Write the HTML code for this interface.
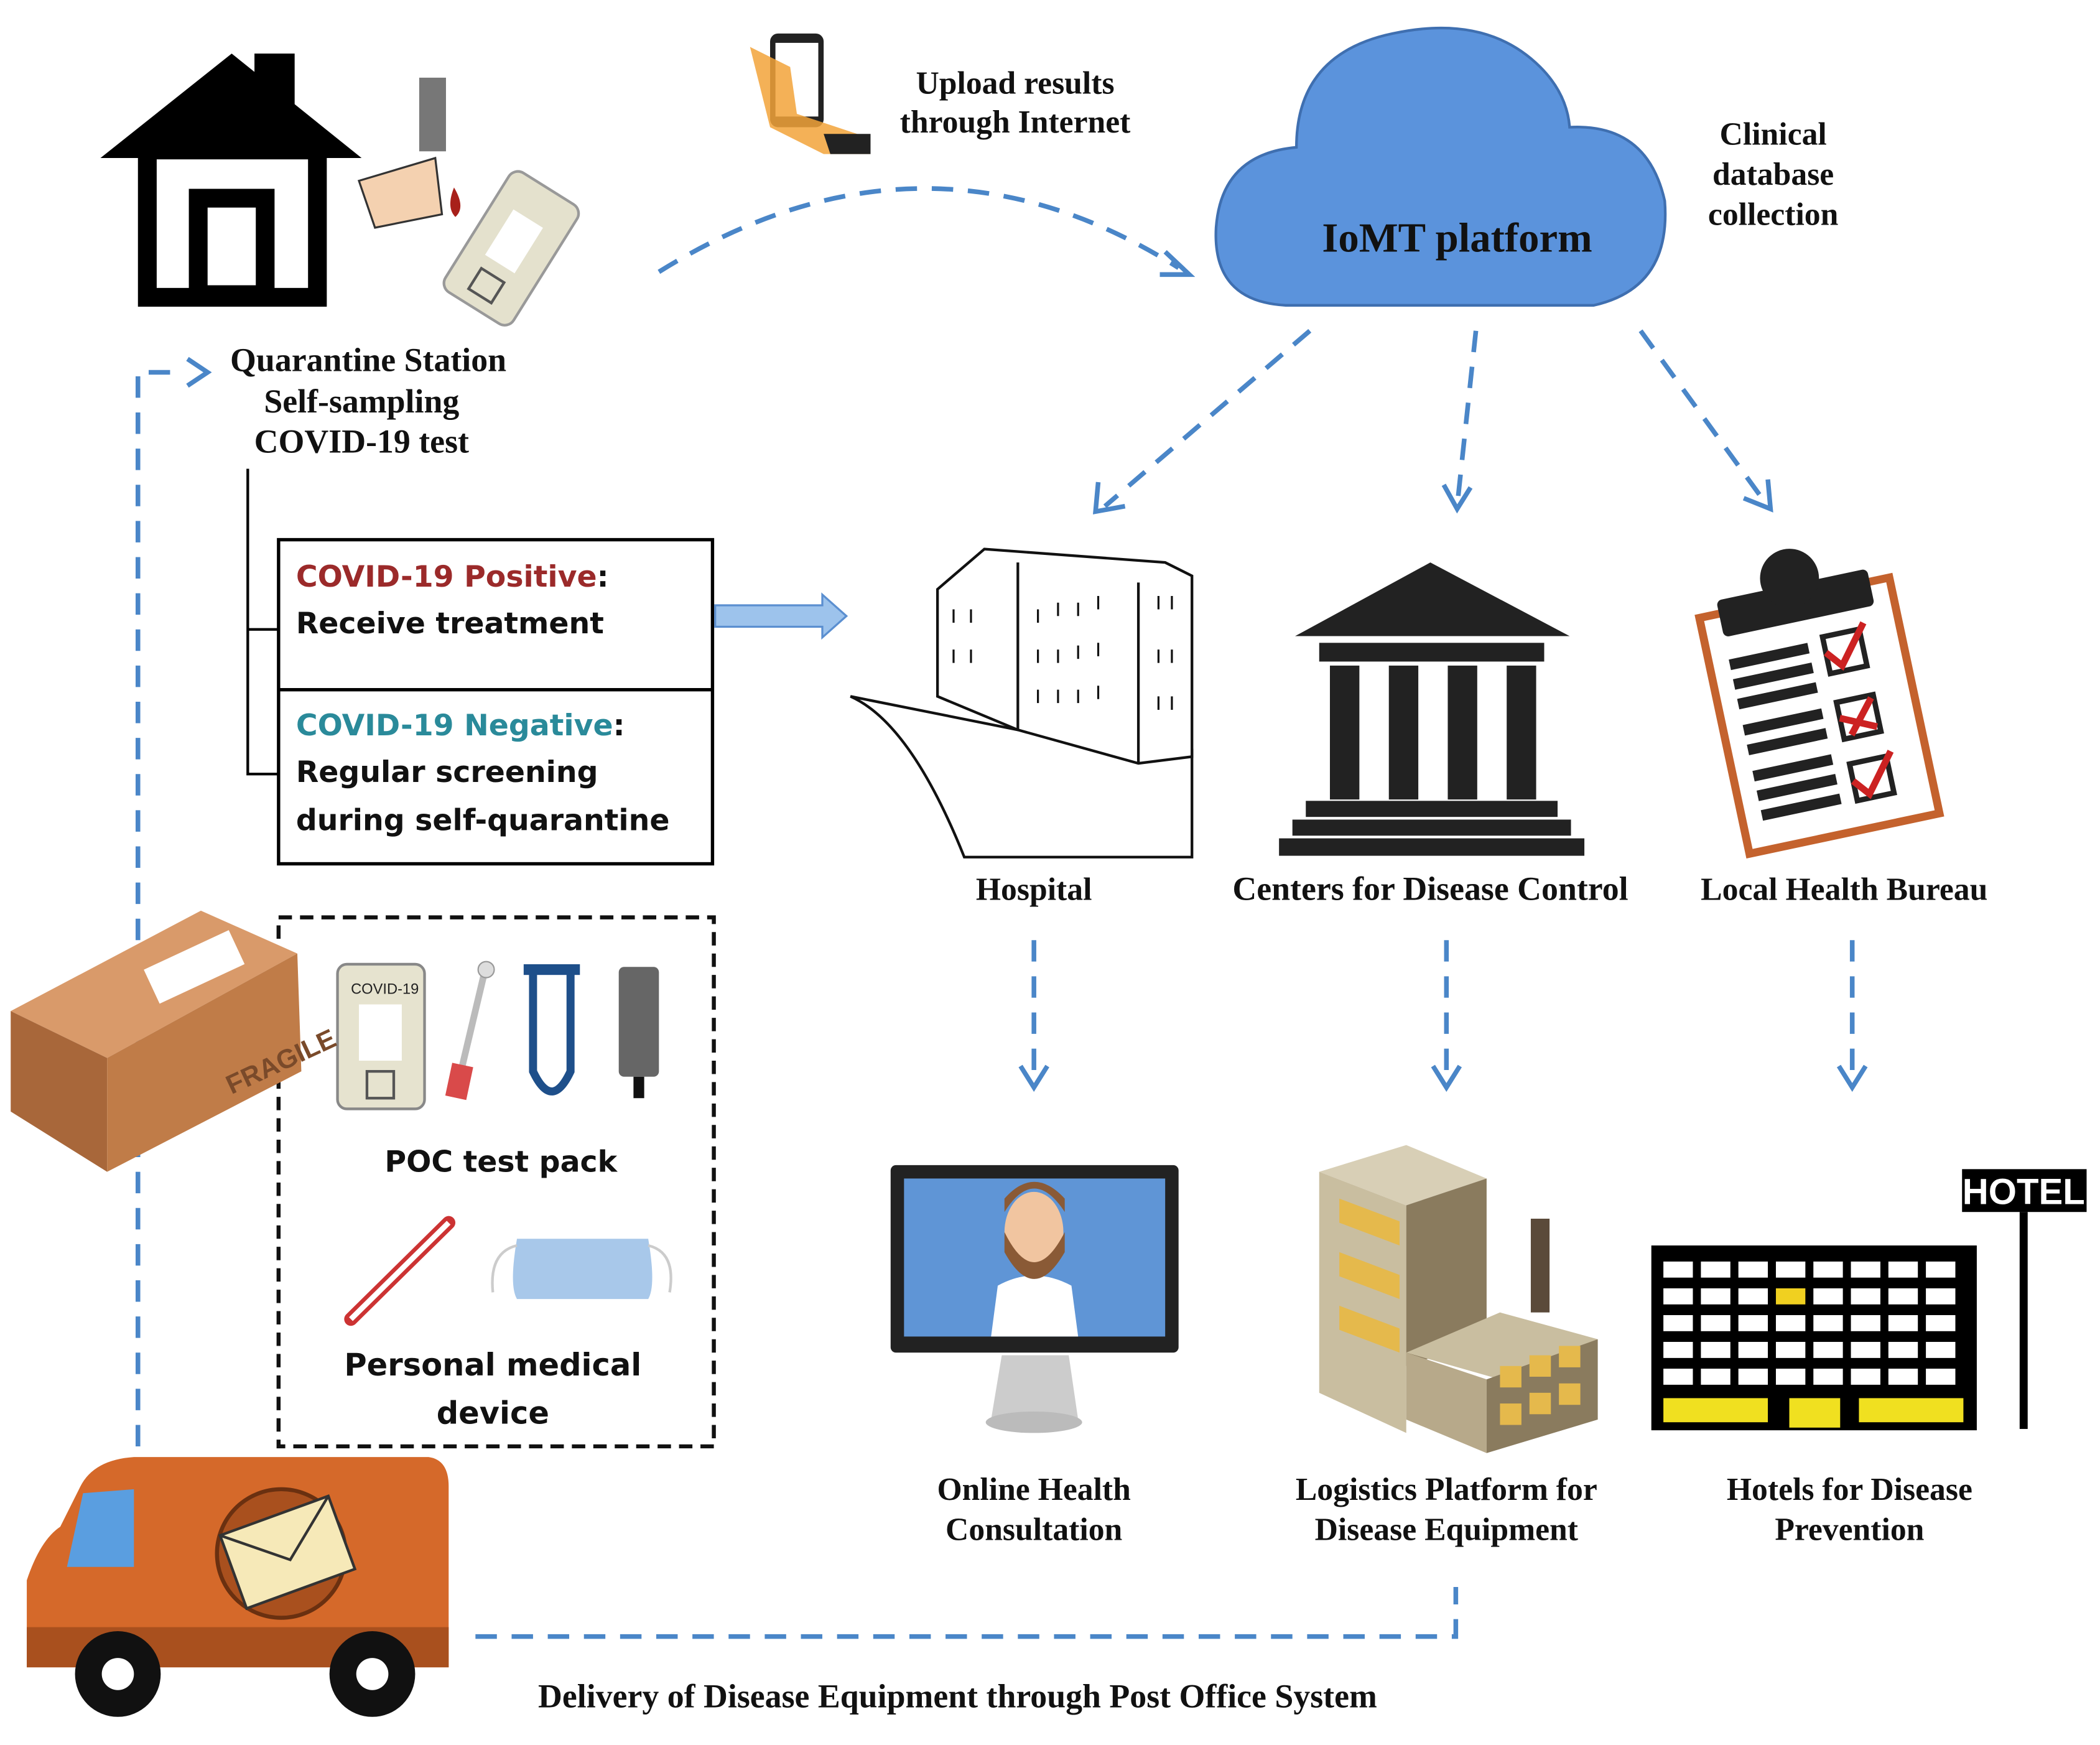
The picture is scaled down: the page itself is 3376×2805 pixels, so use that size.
<!DOCTYPE html>
<html><head><meta charset="utf-8"><style>
html,body{margin:0;padding:0;background:#fff;}
svg{display:block;}
.s{font-family:"Liberation Serif",serif;font-weight:bold;fill:#111;}
.a{font-family:"DejaVu Sans","Liberation Sans",sans-serif;font-weight:bold;fill:#111;}
.d{fill:none;stroke:#4a86c8;stroke-width:3.5;stroke-dasharray:16 11;}
.h{fill:none;stroke:#4a86c8;stroke-width:3.5;}
</style></head><body>
<svg width="3376" height="2805" viewBox="0 0 1568 1303" preserveAspectRatio="none" xmlns="http://www.w3.org/2000/svg">
<rect width="1568" height="1303" fill="#fff"/>
<!-- house -->
<polygon points="75,118 173,40 270,118" fill="#000"/>
<rect x="190" y="40" width="30" height="45" fill="#000"/>
<rect x="110" y="112" width="127" height="110" fill="none" stroke="#000" stroke-width="14"/>
<rect x="148" y="148" width="50" height="72" fill="none" stroke="#000" stroke-width="14"/>
<!-- finger lancet -->
<rect x="313" y="58" width="20" height="55" fill="#777"/>
<path d="M268,135 L325,118 L330,160 L280,170 Z" fill="#f4d1b0" stroke="#333" stroke-width="1.5"/>
<path d="M339,140 Q333,155 340,162 Q348,155 339,140Z" fill="#a8201a"/>
<!-- test cassette -->
<g transform="rotate(32 382 185)"><rect x="352" y="133" width="60" height="105" rx="8" fill="#e4e1cd" stroke="#999" stroke-width="2"/><rect x="368" y="160" width="26" height="40" fill="#fff"/><rect x="371" y="210" width="20" height="18" fill="none" stroke="#555" stroke-width="2"/></g>
<!-- phone -->
<rect x="575" y="25" width="40" height="70" rx="6" fill="#222"/><rect x="579" y="32" width="32" height="55" fill="#fff"/>
<path d="M560,35 L590,50 L595,85 L640,100 L650,115 L615,115 L575,95 Z" fill="#f2a33a" opacity="0.85"/>
<path d="M615,100 L650,100 L650,115 L620,115Z" fill="#222"/>
<text class="s" x="758" y="70" font-size="24" text-anchor="middle">Upload results</text>
<text class="s" x="758" y="99" font-size="24" text-anchor="middle">through Internet</text>
<!-- cloud -->
<g fill="#5b93dc" stroke="#3f6fb0" stroke-width="2">
<path d="M960,228 Q905,225 908,170 Q912,115 968,110 Q968,40 1040,25 Q1110,10 1150,50 Q1170,70 1172,95 Q1230,92 1243,150 Q1248,215 1190,228 Z"/>
</g>
<text class="s" x="1088" y="188" font-size="31" text-anchor="middle">IoMT platform</text>
<text class="s" x="1324" y="108" font-size="24" text-anchor="middle">Clinical</text>
<text class="s" x="1324" y="138" font-size="24" text-anchor="middle">database</text>
<text class="s" x="1324" y="168" font-size="24" text-anchor="middle">collection</text>
<!-- upload arrow -->
<path class="d" d="M492,203 Q690,80 880,200"/>
<path class="h" d="M870,188 L888,205 L866,205"/>
<!-- quarantine -->
<text class="s" x="275" y="277" font-size="25" text-anchor="middle">Quarantine Station</text>
<text class="s" x="270" y="308" font-size="25" text-anchor="middle">Self-sampling</text>
<text class="s" x="270" y="338" font-size="25" text-anchor="middle">COVID-19 test</text>
<path class="d" d="M103,1080 L103,278 L130,278"/>
<path class="h" d="M140,268 L155,278 L140,288"/>
<path d="M185,350 L185,578 L208,578 M185,470 L208,470" fill="none" stroke="#000" stroke-width="2"/>
<rect x="208" y="403" width="324" height="242" fill="#fff" stroke="#000" stroke-width="2.5"/>
<line x1="208" y1="515" x2="532" y2="515" stroke="#000" stroke-width="2.5"/>
<text class="a" x="221" y="438" font-size="22"><tspan fill="#9b2a2a">COVID-19 Positive</tspan>:</text>
<text class="a" x="221" y="473" font-size="22">Receive treatment</text>
<text class="a" x="221" y="549" font-size="22"><tspan fill="#2a8a9a">COVID-19 Negative</tspan>:</text>
<text class="a" x="221" y="584" font-size="22">Regular screening</text>
<text class="a" x="221" y="620" font-size="22">during self-quarantine</text>
<path d="M534,452 L614,452 L614,444 L632,460 L614,476 L614,468 L534,468 Z" fill="#9dc3ec" stroke="#5b8fd0" stroke-width="1.5"/>
<!-- cloud to buildings -->
<path class="d" d="M978,247 L825,378"/><path class="h" d="M820,360 L818,382 L840,378"/>
<path class="d" d="M1102,247 L1088,378"/><path class="h" d="M1078,362 L1088,380 L1098,364"/>
<path class="d" d="M1225,247 L1320,378"/><path class="h" d="M1302,372 L1322,380 L1320,358"/>
<!-- hospital -->
<g fill="#fff" stroke="#111" stroke-width="2">
<path d="M635,520 Q680,540 720,640 L890,640 L890,560 L760,545 Z"/>
<path d="M700,440 L735,410 L870,420 L890,430 L890,565 L850,570 L760,545 L700,520 Z"/>
<path d="M760,420 L760,545"/><path d="M850,435 L850,570"/>
</g>
<g stroke="#111" stroke-width="1.5">
<path d="M775,455 l0,10 M790,450 l0,10 M805,450 l0,10 M820,445 l0,10 M775,485 l0,10 M790,485 l0,10 M805,482 l0,10 M820,480 l0,10 M775,515 l0,10 M790,515 l0,10 M805,515 l0,10 M820,512 l0,10 M865,445 l0,10 M875,445 l0,10 M865,485 l0,10 M875,485 l0,10 M865,520 l0,10 M875,520 l0,10 M712,455 l0,10 M725,455 l0,10 M712,485 l0,10 M725,485 l0,10"/>
</g>
<text class="s" x="772" y="672" font-size="24" text-anchor="middle">Hospital</text>
<!-- CDC -->
<polygon points="967,475 1068,420 1172,475" fill="#222"/>
<rect x="985" y="480" width="168" height="14" fill="#222"/>
<g fill="#222"><rect x="993" y="497" width="22" height="100"/><rect x="1037" y="497" width="22" height="100"/><rect x="1081" y="497" width="22" height="100"/><rect x="1125" y="497" width="22" height="100"/></g>
<rect x="975" y="598" width="188" height="12" fill="#222"/><rect x="965" y="612" width="208" height="12" fill="#222"/><rect x="955" y="626" width="228" height="13" fill="#222"/>
<text class="s" x="1068" y="672" font-size="25" text-anchor="middle">Centers for Disease Control</text>
<!-- clipboard -->
<g transform="rotate(-12 1355 530)">
<rect x="1285" y="445" width="145" height="180" fill="#fff" stroke="#c4622d" stroke-width="6"/>
<rect x="1300" y="435" width="115" height="28" rx="4" fill="#222"/>
<circle cx="1357" cy="430" r="22" fill="#222"/>
<g fill="#222"><rect x="1300" y="480" width="60" height="8"/><rect x="1300" y="495" width="60" height="8"/><rect x="1300" y="510" width="60" height="8"/><rect x="1300" y="530" width="60" height="8"/><rect x="1300" y="545" width="60" height="8"/><rect x="1300" y="565" width="60" height="8"/><rect x="1300" y="580" width="60" height="8"/><rect x="1300" y="595" width="60" height="8"/></g>
<g fill="none" stroke="#222" stroke-width="4"><rect x="1372" y="478" width="28" height="28"/><rect x="1372" y="528" width="28" height="28"/><rect x="1372" y="575" width="28" height="28"/></g>
<g fill="none" stroke="#c22" stroke-width="5"><path d="M1372,490 l10,12 l22,-28"/><path d="M1372,540 l26,12 M1398,530 l-20,24"/><path d="M1372,588 l10,12 l22,-28"/></g>
</g>
<text class="s" x="1377" y="672" font-size="24" text-anchor="middle">Local Health Bureau</text>
<path class="d" d="M772,702 L772,800"/><path class="h" d="M762,796 L772,812 L782,796"/>
<path class="d" d="M1080,702 L1080,800"/><path class="h" d="M1070,796 L1080,812 L1090,796"/>
<path class="d" d="M1383,702 L1383,800"/><path class="h" d="M1373,796 L1383,812 L1393,796"/>
<!-- POC box -->
<rect x="208" y="685" width="325" height="395" fill="none" stroke="#111" stroke-width="3" stroke-dasharray="10 6"/>
<rect x="252" y="720" width="65" height="108" rx="7" fill="#e6e3cf" stroke="#888" stroke-width="2"/>
<text x="262" y="742" font-family="Liberation Sans,sans-serif" font-size="11" fill="#222">COVID-19</text>
<rect x="268" y="750" width="32" height="42" fill="#fff"/><rect x="274" y="800" width="20" height="20" fill="none" stroke="#555" stroke-width="2"/>
<path d="M362,725 L343,805" stroke="#bbb" stroke-width="5"/><circle cx="363" cy="724" r="6" fill="#ddd" stroke="#999"/>
<rect x="335" y="795" width="16" height="25" fill="#d94a4a" transform="rotate(12 343 807)"/>
<path d="M398,725 L398,800 Q412,830 426,800 L426,725" fill="none" stroke="#1e4f8a" stroke-width="6"/>
<rect x="391" y="720" width="42" height="8" fill="#1e4f8a"/>
<rect x="462" y="722" width="30" height="82" rx="4" fill="#666"/><rect x="473" y="804" width="8" height="16" fill="#111"/>
<text class="a" x="374" y="875" font-size="22" text-anchor="middle">POC test pack</text>
<path d="M262,985 L335,913" stroke="#c33" stroke-width="10" stroke-linecap="round"/>
<path d="M262,985 L335,913" stroke="#fff" stroke-width="4"/>
<path d="M386,925 L484,925 Q490,960 484,970 L386,970 Q380,960 386,925Z" fill="#a8c8ea"/>
<path d="M386,930 Q365,935 368,965 M484,930 Q505,935 500,965" fill="none" stroke="#ccc" stroke-width="2"/>
<text class="a" x="368" y="1027" font-size="23" text-anchor="middle">Personal medical</text>
<text class="a" x="368" y="1063" font-size="23" text-anchor="middle">device</text>
<!-- parcel -->
<polygon points="8,755 150,680 222,712 80,790" fill="#d99a6a"/>
<polygon points="8,755 80,790 80,875 8,830" fill="#a8673a"/>
<polygon points="80,790 222,712 225,800 80,875" fill="#c07c48"/>
<rect x="110" y="708" width="70" height="28" fill="#fff" transform="rotate(-25 145 722)"/>
<text x="165" y="808" font-family="Liberation Sans,sans-serif" font-size="20" font-weight="bold" fill="#7a4a2a" transform="rotate(-25 190 795)">FRAGILE</text>
<!-- monitor -->
<rect x="665" y="870" width="215" height="140" rx="4" fill="#222"/>
<rect x="675" y="880" width="195" height="118" fill="#5f95d6"/>
<path d="M740,998 L745,960 Q772,945 800,960 L805,998Z" fill="#fff"/>
<ellipse cx="772" cy="920" rx="22" ry="30" fill="#f1c5a0"/>
<path d="M750,920 Q772,965 795,920 L795,935 Q772,975 750,935Z" fill="#8a5a36"/>
<path d="M750,905 Q772,870 795,905 L795,895 Q772,870 750,895Z" fill="#8a5a36"/>
<path d="M748,1012 L798,1012 L805,1060 L740,1060 Z" fill="#ccc"/><ellipse cx="772" cy="1062" rx="36" ry="8" fill="#bbb"/>
<text class="s" x="772" y="1120" font-size="24" text-anchor="middle">Online Health</text>
<text class="s" x="772" y="1150" font-size="24" text-anchor="middle">Consultation</text>
<!-- logistics -->
<polygon points="985,875 1050,855 1110,880 1050,900" fill="#d8cfb6"/>
<polygon points="985,875 1050,900 1050,1070 985,1040" fill="#c9bea0"/>
<polygon points="1050,900 1110,880 1110,1000 1050,1020" fill="#8a7b5e"/>
<g fill="#e5b94c"><polygon points="1000,895 1045,912 1045,930 1000,913"/><polygon points="1000,935 1045,952 1045,970 1000,953"/><polygon points="1000,975 1045,992 1045,1010 1000,993"/></g>
<rect x="1143" y="910" width="14" height="70" fill="#5a4a3a"/>
<polygon points="1050,1010 1120,980 1193,1000 1120,1030" fill="#c9bea0"/>
<polygon points="1050,1010 1110,1030 1110,1085 1050,1060" fill="#b7a98a"/>
<polygon points="1110,1030 1193,1000 1193,1060 1110,1085" fill="#8a7b5e"/>
<g fill="#e5b94c"><rect x="1120" y="1020" width="16" height="16"/><rect x="1142" y="1012" width="16" height="16"/><rect x="1164" y="1005" width="16" height="16"/><rect x="1120" y="1048" width="16" height="16"/><rect x="1142" y="1040" width="16" height="16"/><rect x="1164" y="1033" width="16" height="16"/></g>
<text class="s" x="1080" y="1120" font-size="24" text-anchor="middle">Logistics Platform for</text>
<text class="s" x="1080" y="1150" font-size="24" text-anchor="middle">Disease Equipment</text>
<!-- hotel -->
<rect x="1233" y="930" width="243" height="138" fill="#000"/>
<g fill="#fff">
<rect x="1242" y="942" width="22" height="12"/><rect x="1270" y="942" width="22" height="12"/><rect x="1298" y="942" width="22" height="12"/><rect x="1326" y="942" width="22" height="12"/><rect x="1354" y="942" width="22" height="12"/><rect x="1382" y="942" width="22" height="12"/><rect x="1410" y="942" width="22" height="12"/><rect x="1438" y="942" width="22" height="12"/>
<rect x="1242" y="962" width="22" height="12"/><rect x="1270" y="962" width="22" height="12"/><rect x="1298" y="962" width="22" height="12"/><rect x="1326" y="962" width="22" height="12" fill="#f0d020"/><rect x="1354" y="962" width="22" height="12"/><rect x="1382" y="962" width="22" height="12"/><rect x="1410" y="962" width="22" height="12"/><rect x="1438" y="962" width="22" height="12"/>
<rect x="1242" y="982" width="22" height="12"/><rect x="1270" y="982" width="22" height="12"/><rect x="1298" y="982" width="22" height="12"/><rect x="1326" y="982" width="22" height="12"/><rect x="1354" y="982" width="22" height="12"/><rect x="1382" y="982" width="22" height="12"/><rect x="1410" y="982" width="22" height="12"/><rect x="1438" y="982" width="22" height="12"/>
<rect x="1242" y="1002" width="22" height="12"/><rect x="1270" y="1002" width="22" height="12"/><rect x="1298" y="1002" width="22" height="12"/><rect x="1326" y="1002" width="22" height="12"/><rect x="1354" y="1002" width="22" height="12"/><rect x="1382" y="1002" width="22" height="12"/><rect x="1410" y="1002" width="22" height="12"/><rect x="1438" y="1002" width="22" height="12"/>
<rect x="1242" y="1022" width="22" height="12"/><rect x="1270" y="1022" width="22" height="12"/><rect x="1298" y="1022" width="22" height="12"/><rect x="1326" y="1022" width="22" height="12"/><rect x="1354" y="1022" width="22" height="12"/><rect x="1382" y="1022" width="22" height="12"/><rect x="1410" y="1022" width="22" height="12"/><rect x="1438" y="1022" width="22" height="12"/>
</g>
<g fill="#f0e020"><rect x="1242" y="1044" width="78" height="18"/><rect x="1336" y="1044" width="38" height="22"/><rect x="1388" y="1044" width="78" height="18"/></g>
<rect x="1508" y="905" width="6" height="162" fill="#000"/>
<rect x="1465" y="873" width="93" height="32" fill="#000"/>
<text x="1511" y="899" font-family="Liberation Sans,sans-serif" font-weight="bold" font-size="27" fill="#fff" text-anchor="middle">HOTEL</text>
<text class="s" x="1381" y="1120" font-size="24" text-anchor="middle">Hotels for Disease</text>
<text class="s" x="1381" y="1150" font-size="24" text-anchor="middle">Prevention</text>
<!-- bottom line -->
<path class="d" d="M355,1222 L1087,1222 L1087,1185"/>
<text class="s" x="715" y="1275" font-size="25" text-anchor="middle">Delivery of Disease Equipment through Post Office System</text>
<!-- van -->
<path d="M60,1110 Q70,1090 100,1088 L320,1088 Q335,1090 335,1110 L335,1245 L20,1245 L20,1180 Q30,1150 45,1140 Z" fill="#d5692a"/>
<path d="M62,1115 L100,1112 L100,1170 L50,1170 Z" fill="#5a9ee0"/>
<rect x="20" y="1215" width="315" height="30" fill="#a9501e"/>
<circle cx="210" cy="1160" r="48" fill="#a9501e" stroke="#6a3010" stroke-width="3"/>
<g transform="rotate(-20 215 1160)"><rect x="172" y="1130" width="86" height="58" fill="#f6e9b8" stroke="#333" stroke-width="2"/><path d="M172,1130 L215,1165 L258,1130" fill="none" stroke="#333" stroke-width="2"/></g>
<circle cx="88" cy="1250" r="32" fill="#111"/><circle cx="88" cy="1250" r="12" fill="#fff"/>
<circle cx="278" cy="1250" r="32" fill="#111"/><circle cx="278" cy="1250" r="12" fill="#fff"/>
</svg>
</body></html>
